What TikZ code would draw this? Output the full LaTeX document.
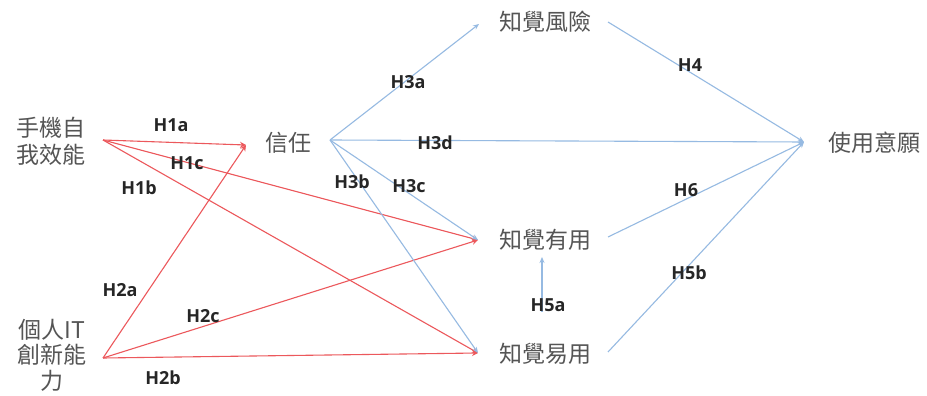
\documentclass[tikz,border=0pt]{standalone}
\usepackage{fontspec}
\setmainfont{Open Sans}
\newfontfamily\cjk{Noto Sans CJK TC}
\usetikzlibrary{arrows.meta}
\definecolor{redl}{RGB}{236,88,92}
\definecolor{bluel}{RGB}{150,186,226}
\definecolor{txtg}{RGB}{85,85,85}
\tikzset{
  x=1pt,y=-1pt,
  concept/.style={font=\cjk\fontsize{23}{27}\selectfont,text=txtg,inner sep=0pt,align=center},
  concepttight/.style={font=\cjk\fontsize{23}{25.5}\selectfont,text=txtg,inner sep=0pt,align=center},
  hyp/.style={font=\bfseries\fontsize{18}{22}\selectfont,text=black!85,inner sep=1pt},
  redarr/.style={draw=redl,line width=1.1pt,-{Stealth[length=6pt,width=6pt]}},
  bluearr/.style={draw=bluel,line width=1.1pt,-{Stealth[length=6pt,width=5pt]}},
}
\begin{document}
\begin{tikzpicture}
\useasboundingbox[fill=white] (0,0) rectangle (927,396);
% concept nodes
\node[concept] (se) at (51,141) {手機自\\我效能};
\node[concepttight] (it) at (52,355) {個人IT\\創新能\\力};
\node[concept] (tr) at (288,143) {信任};
\node[concept] (pr) at (545,22) {知覺風險};
\node[concept] (pu) at (545,240) {知覺有用};
\node[concept] (pe) at (545,354) {知覺易用};
\node[concept] (bi) at (874,143) {使用意願};
% anchor coordinates
\coordinate (seO) at (103,140);
\coordinate (itO) at (103,358);
\coordinate (trI) at (246,145);
\coordinate (trO) at (330,140);
\coordinate (prI) at (479,24);
\coordinate (prO) at (608,22);
\coordinate (puI) at (478,240);
\coordinate (puO) at (608,237);
\coordinate (puB) at (542,257);
\coordinate (peI) at (478,353);
\coordinate (peO) at (608,352);
\coordinate (peT) at (542,312);
\coordinate (biI) at (804,142);
% red connectors
\draw[redarr] (seO) -- (trI);
\draw[redarr] (seO) -- (puI);
\draw[redarr] (seO) -- (peI);
\draw[redarr] (itO) -- (trI);
\draw[redarr] (itO) -- (puI);
\draw[redarr] (itO) -- (peI);
% blue connectors
\draw[bluearr] (trO) -- (prI);
\draw[bluearr] (trO) -- (biI);
\draw[bluearr] (trO) -- (puI);
\draw[bluearr] (trO) -- (peI);
\draw[bluearr] (prO) -- (biI);
\draw[bluearr] (puO) -- (biI);
\draw[bluearr] (peO) -- (biI);
\draw[bluearr] (peT) -- (puB);
% labels
\node[hyp] (l1a) at (171,125) {H1a};
\node[hyp] (l1c) at (187,163) {H1c};
\node[hyp] (l1b) at (139,188) {H1b};
\node[hyp] (l2a) at (120,290) {H2a};
\node[hyp] (l2c) at (203,316) {H2c};
\node[hyp] (l2b) at (163,378) {H2b};
\node[hyp] (l3a) at (408,82) {H3a};
\node[hyp] (l3d) at (435,143) {H3d};
\node[hyp] (l3b) at (352,182) {H3b};
\node[hyp] (l3c) at (409,186) {H3c};
\node[hyp] (l4) at (690,65) {H4};
\node[hyp] (l6) at (686,190) {H6};
\node[hyp] (l5b) at (689,273) {H5b};
\node[hyp] (l5a) at (548,305) {H5a};
\end{tikzpicture}
\end{document}
